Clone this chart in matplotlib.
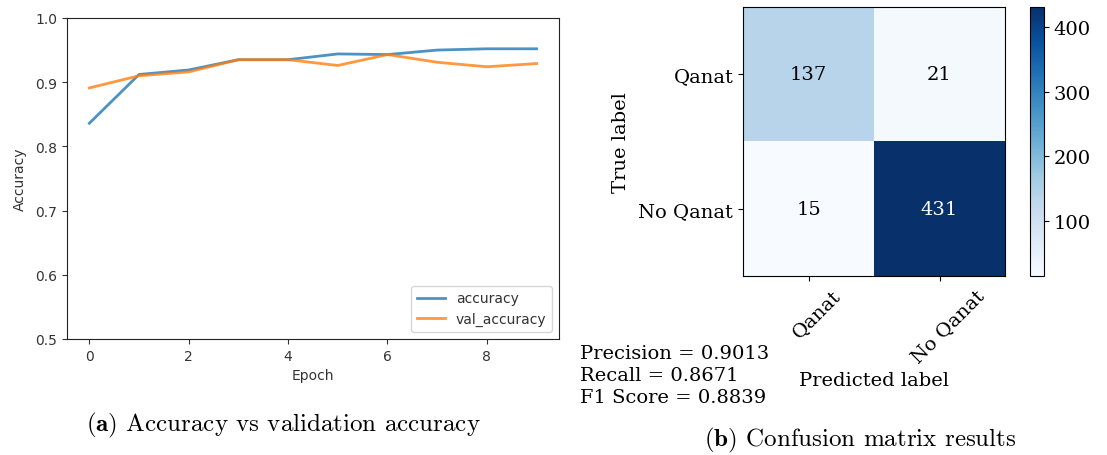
import matplotlib
matplotlib.use("Agg")
import matplotlib.pyplot as plt
import matplotlib.transforms as mtransforms
import numpy as np

# ---- data ----
epochs = list(range(10))
accuracy = [0.836, 0.912, 0.919, 0.935, 0.935, 0.944, 0.943, 0.950, 0.952, 0.952]
val_accuracy = [0.891, 0.910, 0.916, 0.935, 0.935, 0.926, 0.943, 0.931, 0.924, 0.929]
class_names = ["Qanat", "No Qanat"]
cm_values = [[137, 21], [15, 431]]
metrics = ["Precision = 0.9013", "Recall = 0.8671", "F1 Score = 0.8839"]
cbar_ticks = [100, 200, 300, 400]

plt.rcParams["mathtext.fontset"] = "cm"
fig = plt.figure(figsize=(11.07, 4.56), dpi=100)

# ---- left: accuracy curves ----
ax1 = fig.add_axes([0.0605, 0.2544, 0.4444, 0.704])
ax1.plot(epochs, accuracy, color="#1f77b4", lw=2, alpha=0.8, label="accuracy")
ax1.plot(epochs, val_accuracy, color="#ff7f0e", lw=2, alpha=0.8, label="val_accuracy")
ax1.set_ylim(0.5, 1.0)
ax1.set_xticks([0, 2, 4, 6, 8])
ax1.set_yticks([0.5, 0.6, 0.7, 0.8, 0.9, 1.0])
ax1.tick_params(labelsize=10, colors="#333333")
for s in ax1.spines.values():
    s.set_color("#222222")
ax1.set_xlabel("Epoch", fontsize=10, color="#333333")
ax1.set_ylabel("Accuracy", fontsize=10, color="#333333", labelpad=6)
leg = ax1.legend(loc="lower right", fontsize=10)
for t in leg.get_texts():
    t.set_color("#333333")

# ---- right: confusion matrix ----
cm = np.array(cm_values)
ax2 = fig.add_axes([0.6712, 0.3925, 0.2367, 0.590])
im = ax2.imshow(cm, cmap="Blues", vmin=cm.min(), vmax=cm.max(), aspect="auto",
                interpolation="nearest")
serif = "DejaVu Serif"
ax2.set_xticks(range(len(class_names)))
ax2.set_yticks(range(len(class_names)))
ax2.set_xticklabels(class_names, rotation=45, fontsize=14, family=serif)
ax2.set_yticklabels(class_names, fontsize=14, family=serif)
offset = mtransforms.ScaledTranslation(6 / 72, 0, fig.dpi_scale_trans)
for lab in ax2.get_xticklabels():
    lab.set_transform(lab.get_transform() + offset)
thresh = cm.max() / 2.0
for i in range(cm.shape[0]):
    for j in range(cm.shape[1]):
        ax2.text(j, i, str(cm[i, j]), ha="center", va="center", fontsize=14,
                 family=serif, color="white" if cm[i, j] > thresh else "black")
ax2.set_ylabel("True label", fontsize=14, family=serif, labelpad=6)
ax2.set_xlabel("Predicted label", fontsize=14, family=serif)

cax = fig.add_axes([0.9304, 0.3925, 0.01265, 0.590])
cb = fig.colorbar(im, cax=cax, ticks=cbar_ticks)
cb.ax.tick_params(labelsize=14)
for t in cb.ax.get_yticklabels():
    t.set_family(serif)

fig.text(0.524, 0.243, "\n".join(metrics), fontsize=14, family=serif,
         va="top", ha="left", linespacing=1.28)

# ---- captions ----
fig.text(0.2557, 0.068, r"$\mathbf{(a)}$ Accuracy vs validation accuracy",
         fontsize=18, family="cmr10", ha="center", va="center")
fig.text(0.777, 0.035, r"$\mathbf{(b)}$ Confusion matrix results",
         fontsize=18, family="cmr10", ha="center", va="center")

fig.savefig("out.png", dpi=100)
